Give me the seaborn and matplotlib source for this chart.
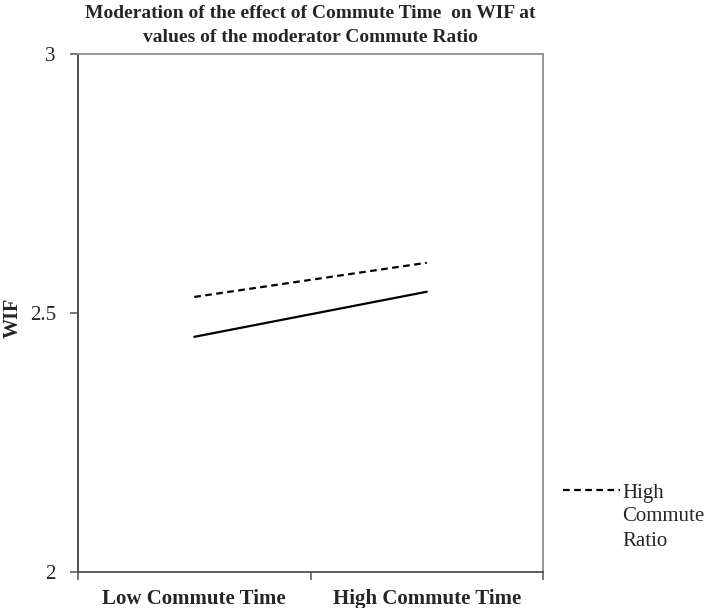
import pandas as pd
import matplotlib
matplotlib.use("Agg")
import matplotlib.pyplot as plt
import seaborn as sns
from matplotlib.lines import Line2D

# values
commute_time = ["Low Commute Time", "High Commute Time"]
wif_high_ratio = [2.531, 2.597]
wif_low_ratio = [2.454, 2.541]

df = pd.DataFrame({
    "Commute Time": commute_time * 2,
    "WIF": wif_high_ratio + wif_low_ratio,
    "Commute Ratio": ["High"] * 2 + ["Low"] * 2,
})

sns.set_style("white")
plt.rcParams["font.family"] = ["Liberation Serif", "DejaVu Serif"]

fig = plt.figure(figsize=(7.09, 6.08), dpi=100)
ax = fig.add_axes([78 / 709, 1 - 572 / 608, (543 - 78) / 709, (572 - 54) / 608])

df["x"] = df["Commute Time"].map({c: i for i, c in enumerate(commute_time)})
sns.lineplot(data=df, x="x", y="WIF", style="Commute Ratio",
             style_order=["High", "Low"],
             dashes={"High": (3, 2), "Low": ""},
             color="black", linewidth=1.6, legend=False, ax=ax)

ax.set_xlim(-0.5, 1.5)
ax.set_ylim(2, 3)
ax.set_yticks([2, 2.5, 3])
ax.set_yticklabels(["2", "2.5", "3"], fontsize=15)
ax.set_xticks([-0.5, 0.5, 1.5])
ax.set_xticklabels([])
ax.set_xticks([0, 1], minor=True)
ax.set_xticklabels(commute_time, minor=True, fontsize=15, fontweight="bold")
ax.tick_params(axis="x", which="minor", length=0, pad=12)
ax.tick_params(axis="both", which="major", length=6, width=1.2,
               color="#606060", direction="out")
ax.tick_params(axis="y", pad=10)
ax.xaxis.set_ticks_position("bottom")
ax.yaxis.set_ticks_position("left")
ax.set_xlabel("")
ax.set_ylabel("WIF", fontsize=14.5, fontweight="bold")
ax.yaxis.set_label_coords((23 - 78) / 465, 0.49)

ax.spines["left"].set_color("#404040")
ax.spines["bottom"].set_color("#505050")
ax.spines["top"].set_color("#909090")
ax.spines["right"].set_color("#909090")
for s in ax.spines.values():
    s.set_linewidth(1.3)

fig.suptitle("Moderation of the effect of Commute Time  on WIF at\nvalues of the moderator Commute Ratio",
             x=(78 + 543) / 2 / 709, y=1 - 42 / 608, va="baseline",
             fontsize=14, fontweight="bold", linespacing=1.55)

handle = Line2D([], [], color="black", linewidth=1.6, dashes=(3, 2))
fig.legend([handle], ["High"], loc="upper left", bbox_to_anchor=(563 / 709, 1 - 483 / 608),
           frameon=False, fontsize=15, handlelength=2.75, handletextpad=0.1,
           borderpad=0, borderaxespad=0)
fig.text(622 / 709, 1 - 507 / 608, "Commute\nRatio", fontsize=15, va="top", ha="left",
         linespacing=1.4)

fig.savefig("out.png", dpi=100)
